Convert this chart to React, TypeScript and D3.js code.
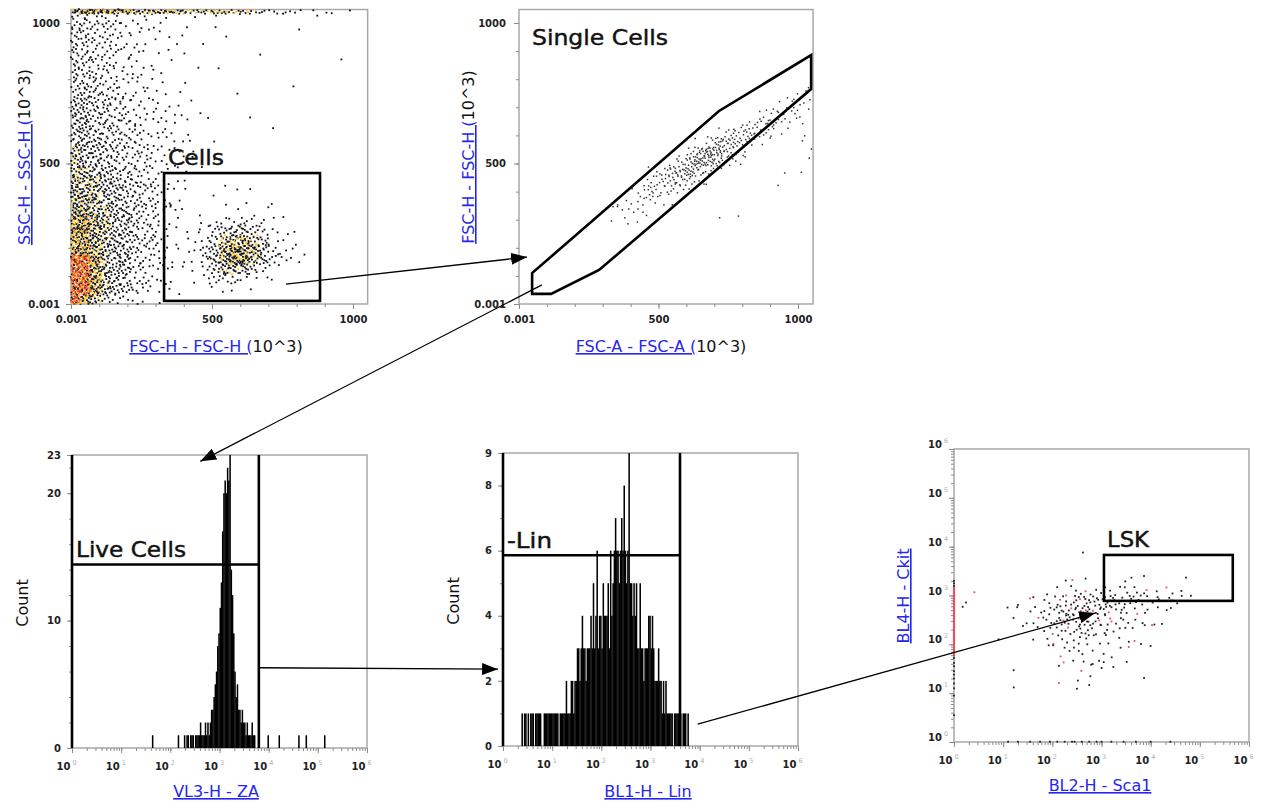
import { useEffect, useRef } from "react";
import * as d3 from "d3";

// ---------- FSC-H vs SSC-H (linear, x10^3) ----------
// density level (0-9) per 35 x 35 cell; first row is the top of the plot (SSC 1015-1050)
const fscSscDensity = [
  "433332221110101001000000100000",
  "443332221101001000000000000000",
  "443332211101000100000001000000",
  "443322211010010000000000000000",
  "443332211101000000010000000000",
  "443322211010100000000000000100",
  "443322211100001000000000000000",
  "444332211101000000000010000000",
  "444332221101000010000000000000",
  "554433222110100000000000000000",
  "554433222111010000000000000000",
  "554443322211010000100000000000",
  "554443322211000000001000000000",
  "555443322211101000000000000000",
  "655443332221100000000000000000",
  "655443332211101000000000000000",
  "665544332211010000000000000000",
  "766554433211000100000000000000",
  "766554433211001010100000000000",
  "776554433211000101001000000000",
  "776655433221010010010000000000",
  "887655433210011223221100000000",
  "887655433211123455432110000000",
  "887655433211124677642110000000",
  "887655433211135788753211000000",
  "998655332211135788653211000000",
  "998655332211124665421100000000",
  "998654332210123332111000000000",
  "998654322110001110100000000000",
  "986432211000000000000000000000",
];
const fscSscDots = [0, 1, 2, 4, 6, 9, 13, 18, 25, 34];
// saturated SSC events on the top edge, per 35-unit FSC column
const sscTopEdge = [6, 12, 12, 10, 9, 9, 8, 8, 7, 9, 8, 7, 6, 6, 7, 8, 6, 5, 4, 3, 3, 2, 2, 1, 1, 1, 1, 0, 1, 0];
const cellsGateX = [330, 883];
const cellsGateY = [11, 466];

// ---------- FSC-A vs FSC-H ----------
const fscAFscHDensity = [
  "000000000000000000000000000000",
  "000000000000000000000000000000",
  "000000000000000000000000000000",
  "000000000000000000000000000000",
  "000000000000000000000000000000",
  "000000000000000000000000000000",
  "000000000000000000000000000000",
  "000000000000000000000000000000",
  "000000000000000000000000000012",
  "000000000000000000000000001222",
  "000000000000000000000000123331",
  "000000000000000000000012343211",
  "000000000000000000001345432101",
  "000000000000000000136653210001",
  "000000000000000013687531000001",
  "000000000000000136875321000001",
  "000000000000013567531000000110",
  "000000000000134554210000001000",
  "000000000001243321000000000000",
  "000000000012332100000000000000",
  "000000000122210000000000000000",
  "000000000111100000001010000000",
];
const fscAFscHDots = [0, 1, 2, 4, 6, 8, 11, 14, 18, 22];
const singleCellsGate: [number, number][] = [
  [47, 110], [47, 36], [115, 36], [287, 121], [1047, 765], [1047, 886], [717, 687],
];

// ---------- VL3-H ZA histogram (log10 bins of 0.025) ----------
const zaStart = 2.3;
const zaStep = 0.025;
const zaCounts = [
  0, 1, 1, 0, 1, 1, 1, 0, 1, 1, 1, 1, 2, 1, 1, 1, 2, 1, 2, 1, 2,
  3, 3, 4, 5, 6, 8, 9, 11, 13, 17,
  20, 21, 20, 22, 21, 23,
  14, 12, 9, 6, 4, 5, 3, 3, 2, 3,
  2, 2, 1, 2, 1, 1, 1, 2, 1, 1,
];
const zaSingles = [1.625, 2.15, 2.275, 3.975, 4.2, 4.6, 4.75, 5.125];
const liveGateZA = 3.8;
const liveGateCount = 14.4;
const zaCountTicks = [0, 10, 20, 23];

// ---------- BL1-H Lin histogram ----------
const linStart = 0.375;
const linStep = 0.025;
const linCounts = [
  1, 0, 1, 1, 0, 1, 0, 1, 1, 1, 0, 1, 1, 1, 1, 1, 0, 0, 1, 1, 1, 1, 1, 1, 1, 1, 1, 1, 1, 1, 0, 1, 1, 1, 1, 1,
  2, 1, 1, 1, 2, 2, 1, 2, 2,
  3, 3, 2, 3, 4, 3, 3, 2, 3, 3, 3, 4, 3, 5, 3, 4, 6, 3,
  4, 4, 3, 5, 4, 4, 4, 5, 3, 6, 4, 5,
  6, 7, 6, 6, 5, 6, 7, 6, 8, 6, 5, 6,
  9,
  5, 5, 4, 5, 4, 5, 3,
  3, 5, 3, 3, 2, 3, 3, 3, 4, 4, 3, 4, 3, 2,
  2, 2, 3, 2, 2, 1, 2, 1, 2, 1, 1,
  1, 1, 1, 0, 1, 1, 1, 1, 1, 1, 0, 1, 1, 1, 0, 1,
];
const linGateLog = 3.6;
const linGateCount = 5.86;
const linCountTicks = [0, 2, 4, 6, 8, 9];

// ---------- BL2-H Sca1 vs BL4-H Ckit (log, 0.2 decade cells) ----------
const sca1CkitDensity = [
  "000000000000000000000000000000",
  "000000000000000000000000000000",
  "000000000000000000000000000000",
  "000000000000000000000000000000",
  "000000000000000000000000000000",
  "000000000000000000000000000000",
  "000000000000000000000000000000",
  "000000000000000000000000000000",
  "000000000000000000000000000000",
  "000000000000000000000000000000",
  "000000000000010000000000000000",
  "000000000000000000000000000000",
  "000000000000000000000000000000",
  "000000000001110001110001000000",
  "001000000112222222221111000000",
  "010000111233444544433221100000",
  "100001112345565433221110000000",
  "000000112345554332111100000000",
  "000000011233433221111000000000",
  "000010001122322211110000000000",
  "000000000112221111010000000000",
  "000000000011111111000000000000",
  "000000100010111110000000000000",
  "000000000010110000010000000000",
  "000000100000110000000000000000",
];
const sca1CkitDots = [0, 1, 2, 3, 5, 6, 8, 10, 12, 15];
const ckitAxisEvents = [3.3, 3.25, 3.2, 1.72, 1.62, 1.55, 1.45, 1.38, 1.3, 1.2, 1.1, 0.95, 0.55];
const ckitAxisRedBand = [1.75, 3.2];
const sca1AxisEvents = [1.1, 1.3, 1.55, 1.75, 1.95, 2.1, 2.25, 2.4, 2.45, 2.6, 2.75, 2.9, 3.0, 3.2, 3.45, 3.7, 4.0, 4.4];
const lskGateX = [3.05, 5.67];
const lskGateY = [2.89, 3.83];

const decades = [0, 1, 2, 3, 4, 5, 6];
const linMajor = [0, 500, 1000];
const linMajorLabels = ["0.001", "500", "1000"];

// arrows: source panel point -> target panel point (panel data units, log panels in exponents)
const gateArrows: [string, number, number, string, number, number][] = [
  ["fscSsc", 762, 71, "fscA", 29, 167],
  ["fscA", 82, 68, "za", 2.61, 22.5],
  ["za", 3.82, 6.3, "lin", -0.1, 2.36],
  ["lin", 3.96, 0.67, "lsk", 2.87, 2.64],
];

const FONT = "'DejaVu Sans', Verdana, sans-serif";
const LINK = "#2626ee";

function halton(i: number, b: number) {
  let f = 1, r = 0;
  while (i > 0) { f /= b; r += f * (i % b); i = Math.floor(i / b); }
  return r;
}

type Dot = { c: number; r: number; u: number; v: number; w: number; level: number };

// each cell takes its own stretch of a Halton sequence so its dots spread evenly inside it
function gridDots(grid: string[], perLevel: number[]) {
  const out: Dot[] = [];
  grid.forEach((row, r) => {
    for (let c = 0; c < 30; c++) {
      const level = +(row[c] || 0);
      const seed = (((r + 1) * 92821) ^ ((c + 1) * 68917)) % 4093 + 1;
      for (let k = 0; k < perLevel[level]; k++)
        out.push({ c, r, level, u: halton(seed + k, 2), v: halton(seed + k, 3), w: halton(seed + k, 5) });
    }
  });
  return out;
}

// FCS-style density colouring: dense cells show yellow / orange / red events among black ones
function fscSscColor(d: Dot) {
  const { level, w, c } = d;
  if (c >= 10) return level >= 6 && w < 0.3 ? "#ffc81f" : "#111";
  if (level >= 9) return w < 0.35 ? "#e8341c" : w < 0.6 ? "#ff7a1a" : w < 0.8 ? "#ffb21a" : "#111";
  if (level === 8) return w < 0.2 ? "#ff9b1a" : w < 0.45 ? "#ffd21f" : "#111";
  if (level >= 6) return w < 0.22 ? "#ffd21f" : "#111";
  return "#111";
}

export default function App() {
  const ref = useRef<SVGSVGElement>(null);

  useEffect(() => {
    const svg = d3.select(ref.current!);
    svg.selectAll("*").remove();

    const p1x = d3.scaleLinear().domain([0, 1000]).range([71, 353]);
    const p1y = d3.scaleLinear().domain([0, 1000]).range([304, 23]);
    const p2x = d3.scaleLinear().domain([0, 1000]).range([519, 798]);
    const p2y = d3.scaleLinear().domain([0, 1000]).range([304, 23]);
    const p3x = d3.scaleLog().domain([1, 1e6]).range([72, 367]);
    const p3y = d3.scaleLinear().domain([0, 23]).range([748, 455]);
    const p4x = d3.scaleLog().domain([1, 1e6]).range([503, 798]);
    const p4y = d3.scaleLinear().domain([0, 9]).range([746, 453]);
    const p5x = d3.scaleLog().domain([1, 1e6]).range([954, 1249]);
    const p5y = d3.scaleLog().domain([1, 1e6]).range([742, 449]);

    const pos: Record<string, (a: number, b: number) => [number, number]> = {
      fscSsc: (a, b) => [p1x(a), p1y(b)],
      fscA: (a, b) => [p2x(a), p2y(b)],
      za: (a, b) => [p3x(10 ** a), p3y(b)],
      lin: (a, b) => [p4x(10 ** a), p4y(b)],
      lsk: (a, b) => [p5x(10 ** a), p5y(10 ** b)],
    };

    const frame = (x0: number, x1: number, y0: number, y1: number) =>
      svg.append("rect").attr("x", x0).attr("y", y1).attr("width", x1 - x0).attr("height", y0 - y1)
        .attr("fill", "none").attr("stroke", "#a8a8a8").attr("stroke-width", 1.5);

    const styleAxis = (g: d3.Selection<SVGGElement, unknown, null, undefined>) => {
      g.select(".domain").remove();
      g.selectAll("line").attr("stroke", "#8c8c8c");
      g.selectAll("text").attr("font-family", FONT).attr("font-size", 10).attr("font-weight", "bold").attr("fill", "#222");
    };

    const linearAxes = (x: d3.ScaleLinear<number, number>, y: d3.ScaleLinear<number, number>, pad: number) => {
      const fmt = (d: d3.NumberValue) => linMajorLabels[linMajor.indexOf(+d)];
      const minor = d3.range(0, 1001, 100);
      svg.append("g").attr("transform", `translate(0,${y(0)})`)
        .call(d3.axisBottom(x).tickValues(minor).tickSize(3).tickFormat(() => "")).call(styleAxis);
      svg.append("g").attr("transform", `translate(0,${y(0)})`)
        .call(d3.axisBottom(x).tickValues(linMajor).tickSize(5).tickPadding(7).tickFormat(fmt)).call(styleAxis);
      svg.append("g").attr("transform", `translate(${x(0)},0)`)
        .call(d3.axisLeft(y).tickValues(minor).tickSize(3).tickFormat(() => "")).call(styleAxis);
      svg.append("g").attr("transform", `translate(${x(0)},0)`)
        .call(d3.axisLeft(y).tickValues(linMajor).tickSize(5).tickPadding(pad).tickFormat(fmt)).call(styleAxis);
    };

    const logAxis = (s: d3.ScaleLogarithmic<number, number>, orient: "bottom" | "left", at: number) => {
      const mk = orient === "bottom" ? d3.axisBottom : d3.axisLeft;
      const tr = orient === "bottom" ? `translate(0,${at})` : `translate(${at},0)`;
      svg.append("g").attr("transform", tr).call(mk(s).tickValues(s.ticks()).tickSize(3).tickFormat(() => "")).call(styleAxis);
      svg.append("g").attr("transform", tr)
        .call(mk(s).tickValues(decades.map((e) => 10 ** e)).tickSize(5).tickFormat(() => "")).call(styleAxis);
      decades.forEach((e) => {
        const p = s(10 ** e);
        const bx = orient === "bottom" ? p - 1.5 : at - 12;
        const by = orient === "bottom" ? at + 22 : p - 1;
        svg.append("text").attr("x", bx).attr("y", by).attr("text-anchor", "end")
          .attr("font-family", FONT).attr("font-size", 10).attr("font-weight", "bold").attr("fill", "#222").text("10");
        svg.append("text").attr("x", bx + 2).attr("y", by - 5).attr("font-family", FONT)
          .attr("font-size", 6.5).attr("fill", "#b0b0b0").text(String(e));
      });
    };

    const countAxis = (y: d3.ScaleLinear<number, number>, x: number, labels: number[], step: number) => {
      const [, max] = y.domain();
      svg.append("g").attr("transform", `translate(${x},0)`)
        .call(d3.axisLeft(y).tickValues(d3.range(0, max + 0.001, step)).tickSize(3).tickFormat(() => "")).call(styleAxis);
      svg.append("g").attr("transform", `translate(${x},0)`)
        .call(d3.axisLeft(y).tickValues(labels).tickSize(5).tickPadding(6).tickFormat(d3.format("d"))).call(styleAxis);
    };

    const title = (x: number, y: number, rotate: boolean, parts: [string, boolean][]) => {
      const t = svg.append("text").attr("transform", `translate(${x},${y})${rotate ? " rotate(-90)" : ""}`)
        .attr("text-anchor", "middle").attr("font-family", FONT).attr("font-size", 16);
      parts.forEach(([s, link]) =>
        t.append("tspan").text(s).attr("fill", link ? LINK : "#111")
          .style("text-decoration", link ? "underline" : "none"));
    };

    const gateLabel = (x: number, y: number, s: string, w: number) =>
      svg.append("text").attr("x", x).attr("y", y).attr("font-family", FONT).attr("font-size", 22)
        .attr("fill", "#111").attr("stroke", "#111").attr("stroke-width", 0.45)
        .attr("textLength", w).attr("lengthAdjust", "spacingAndGlyphs").text(s);

    const gateStroke = (sel: d3.Selection<any, any, any, any>) =>
      sel.attr("fill", "none").attr("stroke", "#000").attr("stroke-width", 2.6);

    // ===== panel 1: FSC-H / SSC-H =====
    frame(p1x(0), p1x(1052), p1y(0), p1y(1048));
    linearAxes(p1x, p1y, 6);
    svg.append("g").selectAll("rect").data(gridDots(fscSscDensity, fscSscDots)).join("rect")
      .attr("x", (d) => p1x(35 * (d.c + d.u)) - 0.9).attr("y", (d) => p1y(1050 - 35 * (d.r + d.v)) - 0.9)
      .attr("width", 1.8).attr("height", 1.8).attr("fill", fscSscColor);
    const topEvents = sscTopEdge.flatMap((n, c) => d3.range(n).map((k) => ({ c, k, s: ((c + 3) * 2654435) % 3001 + 1 })));
    svg.append("g").selectAll("rect").data(topEvents).join("rect")
      .attr("x", (d) => p1x(35 * (d.c + halton(d.s + d.k, 2))) - 0.9)
      .attr("y", (d) => p1y(1047 - 14 * halton(d.s + d.k, 3)) - 0.9)
      .attr("width", 1.8).attr("height", 1.8)
      .attr("fill", (d) => (halton(d.s + d.k, 5) < 0.35 && d.c < 20 ? "#ffc21a" : "#111"));
    svg.append("rect").attr("x", p1x(cellsGateX[0])).attr("y", p1y(cellsGateY[1]))
      .attr("width", p1x(cellsGateX[1]) - p1x(cellsGateX[0])).attr("height", p1y(cellsGateY[0]) - p1y(cellsGateY[1]))
      .call(gateStroke);
    gateLabel(168, 165, "Cells", 56);
    title(216, 352, false, [["FSC-H - FSC-H (", true], ["10^3)", false]]);
    title(30, 157, true, [["SSC-H - SSC-H (", true], ["10^3)", false]]);

    // ===== panel 2: FSC-A / FSC-H =====
    frame(p2x(0), p2x(1054), p2y(0), p2y(1048));
    linearAxes(p2x, p2y, 8);
    svg.append("g").selectAll("rect").data(gridDots(fscAFscHDensity, fscAFscHDots)).join("rect")
      .attr("x", (d) => p2x(35 * (d.c + d.u)) - 0.75).attr("y", (d) => p2y(1050 - 35 * (d.r + d.v)) - 0.75)
      .attr("width", 1.5).attr("height", 1.5).attr("fill", "#333");
    svg.append("path").attr("d", d3.line().x((d) => p2x(d[0])).y((d) => p2y(d[1])).curve(d3.curveLinearClosed)(singleCellsGate))
      .call(gateStroke);
    gateLabel(532, 45, "Single Cells", 136);
    title(661, 352, false, [["FSC-A - FSC-A (", true], ["10^3)", false]]);
    title(474, 157, true, [["FSC-H - FSC-H (", true], ["10^3)", false]]);

    // ===== panel 3: ZA histogram =====
    frame(p3x(1), p3x(1e6), p3y(0), p3y(23));
    logAxis(p3x, "bottom", p3y(0));
    countAxis(p3y, p3x(1), zaCountTicks, 2);
    const zaBins = zaCounts.map((n, i) => [zaStart + i * zaStep, n]).concat(zaSingles.map((v) => [v, 1]));
    svg.append("g").selectAll("rect").data(zaBins.filter((d) => d[1] > 0)).join("rect")
      .attr("x", (d) => p3x(10 ** d[0])).attr("width", (d) => p3x(10 ** (d[0] + zaStep)) - p3x(10 ** d[0]) + 0.3)
      .attr("y", (d) => p3y(d[1])).attr("height", (d) => p3y(0) - p3y(d[1])).attr("fill", "#000");
    svg.append("line").attr("x1", p3x(1)).attr("x2", p3x(1)).attr("y1", p3y(23)).attr("y2", p3y(0)).call(gateStroke);
    svg.append("line").attr("x1", p3x(10 ** liveGateZA)).attr("x2", p3x(10 ** liveGateZA)).attr("y1", p3y(23)).attr("y2", p3y(0)).call(gateStroke);
    svg.append("line").attr("x1", p3x(1)).attr("x2", p3x(10 ** liveGateZA)).attr("y1", p3y(liveGateCount)).attr("y2", p3y(liveGateCount)).call(gateStroke);
    gateLabel(76, 557, "Live Cells", 110);
    title(216, 797, false, [["VL3-H - ZA", true]]);
    title(28, 603, true, [["Count", false]]);

    // ===== panel 4: Lin histogram =====
    frame(p4x(1), p4x(1e6), p4y(0), p4y(9));
    logAxis(p4x, "bottom", p4y(0));
    countAxis(p4y, p4x(1), linCountTicks, 1);
    const linBins = linCounts.map((n, i) => [linStart + i * linStep, n]).filter((d) => d[1] > 0);
    svg.append("g").selectAll("rect").data(linBins).join("rect")
      .attr("x", (d) => p4x(10 ** d[0])).attr("width", (d) => p4x(10 ** (d[0] + linStep)) - p4x(10 ** d[0]) + 0.3)
      .attr("y", (d) => p4y(d[1])).attr("height", (d) => p4y(0) - p4y(d[1])).attr("fill", "#000");
    svg.append("line").attr("x1", p4x(1)).attr("x2", p4x(1)).attr("y1", p4y(9)).attr("y2", p4y(0)).call(gateStroke);
    svg.append("line").attr("x1", p4x(10 ** linGateLog)).attr("x2", p4x(10 ** linGateLog)).attr("y1", p4y(9)).attr("y2", p4y(0)).call(gateStroke);
    svg.append("line").attr("x1", p4x(1)).attr("x2", p4x(10 ** linGateLog)).attr("y1", p4y(linGateCount)).attr("y2", p4y(linGateCount)).call(gateStroke);
    gateLabel(507, 548, "-Lin", 45);
    title(648, 797, false, [["BL1-H - Lin", true]]);
    title(459, 601, true, [["Count", false]]);

    // ===== panel 5: Sca1 / Ckit =====
    frame(p5x(1), p5x(1e6), p5y(1), p5y(1e6));
    logAxis(p5x, "bottom", p5y(1));
    logAxis(p5y, "left", p5x(1));
    svg.append("line").attr("x1", p5x(1)).attr("x2", p5x(1))
      .attr("y1", p5y(10 ** ckitAxisRedBand[0])).attr("y2", p5y(10 ** ckitAxisRedBand[1]))
      .attr("stroke", "#e8506a").attr("stroke-width", 2.2);
    svg.append("g").selectAll("rect").data(ckitAxisEvents).join("rect")
      .attr("x", p5x(1) - 0.9).attr("y", (d) => p5y(10 ** d) - 0.9).attr("width", 1.8).attr("height", 1.8).attr("fill", "#222");
    svg.append("g").selectAll("rect").data(sca1AxisEvents).join("rect")
      .attr("x", (d) => p5x(10 ** d) - 0.9).attr("y", p5y(1) - 1.2).attr("width", 1.8).attr("height", 1.8).attr("fill", "#222");
    svg.append("g").selectAll("rect").data(gridDots(sca1CkitDensity, sca1CkitDots)).join("rect")
      .attr("x", (d) => p5x(10 ** (0.2 * (d.c + d.u))) - 0.9)
      .attr("y", (d) => p5y(10 ** (6 - 0.2 * (d.r + d.v))) - 0.9)
      .attr("width", 1.8).attr("height", 1.8).attr("fill", (d) => (d.w < 0.12 ? "#e0506a" : "#222"));
    svg.append("rect").attr("x", p5x(10 ** lskGateX[0])).attr("y", p5y(10 ** lskGateY[1]))
      .attr("width", p5x(10 ** lskGateX[1]) - p5x(10 ** lskGateX[0]))
      .attr("height", p5y(10 ** lskGateY[0]) - p5y(10 ** lskGateY[1])).call(gateStroke);
    gateLabel(1107, 547, "LSK", 42);
    title(1100, 791, false, [["BL2-H - Sca1", true]]);
    title(909, 596, true, [["BL4-H - Ckit", true]]);

    // ===== gate arrows =====
    svg.append("defs").append("marker").attr("id", "head").attr("viewBox", "0 0 16 12")
      .attr("markerWidth", 16).attr("markerHeight", 12).attr("markerUnits", "userSpaceOnUse")
      .attr("refX", 16).attr("refY", 6).attr("orient", "auto")
      .append("path").attr("d", "M0,0L16,6L0,12Z").attr("fill", "#000");
    gateArrows.forEach(([fp, fx, fy, tp, tx, ty]) => {
      const [x1, y1] = pos[fp](fx, fy);
      const [x2, y2] = pos[tp](tx, ty);
      svg.append("line").attr("x1", x1).attr("y1", y1).attr("x2", x2).attr("y2", y2)
        .attr("stroke", "#000").attr("stroke-width", 1.3).attr("marker-end", "url(#head)");
    });
  }, []);

  return (
    <svg ref={ref} width={1265} height={808}
      style={{ position: "absolute", left: 0, top: 0, background: "#fff", display: "block" }} />
  );
}
